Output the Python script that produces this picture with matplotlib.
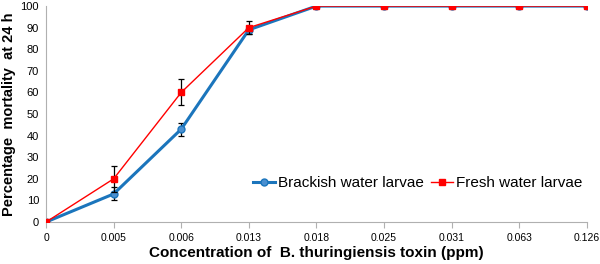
import numpy as np
import matplotlib.pyplot as plt

plt.rcParams['font.family'] = ['Liberation Sans', 'DejaVu Sans']

# data
conc_labels = ["0", "0.005", "0.006", "0.013", "0.018", "0.025", "0.031", "0.063", "0.126"]
brackish = [0, 13, 43, 89, 100, 100, 100, 100, 100]
brackish_err = [0, 3, 3, 2, 0, 0, 0, 0, 0]
fresh = [0, 20, 60, 90, 100, 100, 100, 100, 100]
fresh_err = [0, 6, 6, 3, 0, 0, 0, 0, 0]

x = np.arange(len(conc_labels))

fig = plt.figure(figsize=(6.0, 2.64), dpi=100)
ax = fig.add_axes([0.0767, 0.159, 0.9013, 0.818])

ax.errorbar(x, brackish, yerr=brackish_err, color="#1b75bc", linewidth=2.2,
            marker="o", markersize=5, markerfacecolor="#4a8fd0", markeredgecolor="#1b75bc",
            ecolor="black", elinewidth=0.9, capsize=2.5, capthick=0.9,
            label="Brackish water larvae", zorder=2)
ax.errorbar(x, fresh, yerr=fresh_err, color="#ff0000", linewidth=1.0,
            marker="s", markersize=4.5, markerfacecolor="#ff0000", markeredgecolor="#ff0000",
            ecolor="black", elinewidth=0.9, capsize=2.5, capthick=0.9,
            label="Fresh water larvae", zorder=3)

ax.set_xlim(0, len(conc_labels) - 1)
ax.set_ylim(0, 100)
ax.set_xticks(x)
ax.set_xticklabels(conc_labels, fontsize=7.5)
ax.set_yticks(np.arange(0, 101, 10))
ax.tick_params(axis="y", labelsize=8, length=0, pad=5)
ax.tick_params(axis="x", length=4, color="#b0b0b0", pad=4)

for side in ["top", "right"]:
    ax.spines[side].set_visible(False)
for side in ["left", "bottom"]:
    ax.spines[side].set_color("#b0b0b0")

ax.set_xlabel("Concentration of  B. thuringiensis toxin (ppm)", fontsize=11,
              fontweight="bold", labelpad=2)
ax.set_ylabel("Percentage  mortality  at 24 h", fontsize=10.5, fontweight="bold", labelpad=3)

handles, labels = ax.get_legend_handles_labels()
handles = [h[0] for h in handles]
ax.legend(handles, labels, loc="center right", bbox_to_anchor=(1.0, 0.18), ncol=2,
          frameon=False, fontsize=11, handlelength=1.4, columnspacing=0.5,
          handletextpad=0.2, borderpad=0, borderaxespad=0.3)

fig.savefig("out.png", dpi=100)
